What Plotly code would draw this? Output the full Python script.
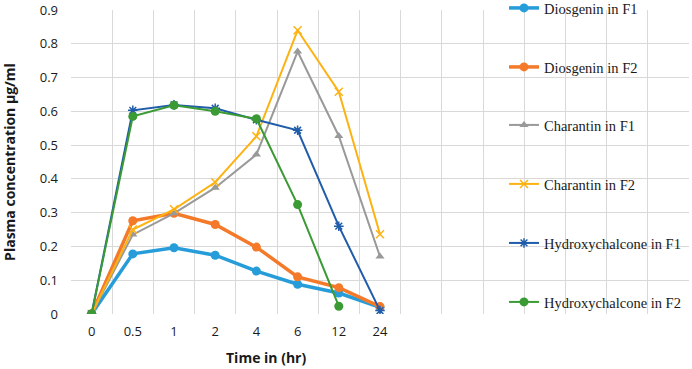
import plotly.graph_objects as go

time_labels = ["0", "0.5", "1", "2", "4", "6", "12", "24"]
n_slots = 15  # total category slots on the axis (extra empty slots to the right)

diosgenin_f1 = [0, 0.178, 0.196, 0.174, 0.127, 0.088, 0.062, 0.020]
diosgenin_f2 = [0, 0.276, 0.298, 0.265, 0.198, 0.110, 0.078, 0.022]
charantin_f1 = [0, 0.235, 0.298, 0.374, 0.472, 0.777, 0.527, 0.170]
charantin_f2 = [0, 0.250, 0.310, 0.390, 0.526, 0.840, 0.658, 0.236]
hydroxy_f1 = [0, 0.603, 0.619, 0.609, 0.575, 0.544, 0.260, 0.010]
hydroxy_f2 = [0, 0.585, 0.618, 0.600, 0.578, 0.324, 0.023, None]

series_names = ["Diosgenin in F1", "Diosgenin in F2", "Charantin in F1",
                "Charantin in F2", "Hydroxychalcone in F1", "Hydroxychalcone in F2"]
series_values = [diosgenin_f1, diosgenin_f2, charantin_f1, charantin_f2, hydroxy_f1, hydroxy_f2]
colors = ["#269dd9", "#f47a2a", "#999999", "#fdb212", "#1f5ca9", "#3a9a33"]
symbols = ["circle", "circle", "triangle-up", "x-thin-open", "asterisk-open", "circle"]
msizes = [9, 9, 8, 8, 8, 9]
lwidths = [3.5, 3.5, 2, 2, 2, 2]

x_pos = list(range(len(time_labels)))

W, H = 692, 369
ml, mr, mt, mb = 71, 3, 10, 55
pw, ph = W - ml - mr, H - mt - mb

legend_centers_px = [8, 67, 125, 184, 243, 302]
legend_left_px = 504

fig = go.Figure()
layout_legends = {}
for i, (name, vals) in enumerate(zip(series_names, series_values)):
    key = "legend" if i == 0 else f"legend{i+1}"
    fig.add_trace(go.Scatter(
        x=x_pos, y=vals, name=name, mode="lines+markers",
        line=dict(color=colors[i], width=lwidths[i]),
        marker=dict(symbol=symbols[i], size=msizes[i], color=colors[i],
                    line=dict(color=colors[i], width=1.5 if "open" in symbols[i] else 0)),
        legend=key, connectgaps=False,
    ))
    layout_legends[key] = dict(
        x=(legend_left_px - ml) / pw, xanchor="left",
        y=(H - mb - legend_centers_px[i]) / ph, yanchor="middle",
        bgcolor="rgba(0,0,0,0)",
        font=dict(family="Liberation Serif", size=14.5, color="#1a1a1a"),
        itemwidth=30,
    )

fig.update_layout(
    width=W, height=H,
    margin=dict(l=ml, r=mr, t=mt, b=mb, autoexpand=False),
    paper_bgcolor="white", plot_bgcolor="white",
    showlegend=True,
    font=dict(family="Open Sans", color="#1a1a1a"),
    **layout_legends,
)

fig.update_xaxes(
    range=[-0.5, n_slots - 0.5],
    tickmode="array", tickvals=x_pos, ticktext=time_labels,
    showgrid=False, zeroline=False, showline=False,
    ticks="", ticklabelstandoff=8,
    tickfont=dict(family="Open Sans", size=13, color="#1a1a1a"),
    minor=dict(tickmode="array",
               tickvals=[k - 0.5 for k in range(n_slots + 1)],
               showgrid=True, gridcolor="#d9d9d9", gridwidth=1, ticks=""),
)
fig.update_yaxes(
    range=[0, 0.9], dtick=0.1, tick0=0,
    showgrid=True, gridcolor="#d9d9d9", gridwidth=1,
    zeroline=False, showline=False, ticks="", ticklabelstandoff=12,
    tickfont=dict(family="Open Sans", size=13, color="#1a1a1a"),
    title=dict(text="<b>Plasma concentration µg/ml</b>", standoff=20,
               font=dict(family="Open Sans", size=14, color="#1a1a1a")),
)

fig.add_annotation(
    text="<b>Time in (hr)</b>", xref="paper", yref="paper",
    x=(266 - ml) / pw, y=(H - mb - 357) / ph, xanchor="center", yanchor="middle",
    showarrow=False, font=dict(family="Open Sans", size=14, color="#1a1a1a"),
)

fig.write_html(
    "out.html",
    config={"displayModeBar": False},
    post_script="document.body.style.margin='0';document.body.style.overflow='hidden';",
)
